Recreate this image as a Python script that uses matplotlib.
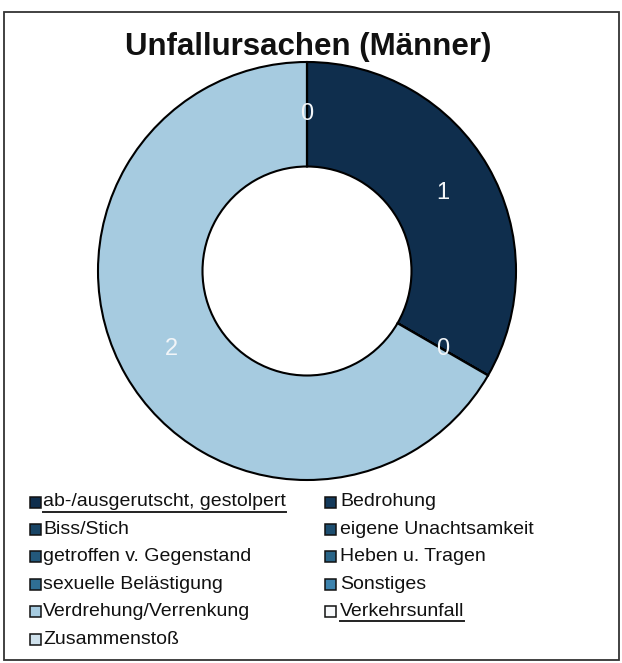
import numpy as np
import matplotlib
matplotlib.use("Agg")
import matplotlib.pyplot as plt
from matplotlib.patches import Rectangle
from matplotlib.lines import Line2D

plt.rcParams['font.family'] = ['Liberation Sans', 'DejaVu Sans']

title = "Unfallursachen (Männer)"
categories = [
    "ab-/ausgerutscht, gestolpert", "Bedrohung", "Biss/Stich",
    "eigene Unachtsamkeit", "getroffen v. Gegenstand", "Heben u. Tragen",
    "sexuelle Belästigung", "Sonstiges", "Verdrehung/Verrenkung",
    "Verkehrsunfall", "Zusammenstoß",
]
values = [1, np.nan, np.nan, np.nan, np.nan, np.nan, np.nan, 0, 2, 0, np.nan]
colors = ["#0f2e4d", "#13395a", "#184465", "#1d4e70", "#23597c", "#296487",
          "#2f6f94", "#3d83ae", "#a6cbe0", "#f7f9fb", "#cfe1ec"]
underlined = ["ab-/ausgerutscht, gestolpert", "Verkehrsunfall"]

W, H = 622, 663
fig = plt.figure(figsize=(W / 100, H / 100), dpi=100)

def fx(px):
    return px / W

def fy(py):
    return 1 - py / H

# outer frame
fig.patches.append(Rectangle((fx(4), fy(660)), fx(615), 648 / H,
                             transform=fig.transFigure, fill=False,
                             edgecolor="#333333", linewidth=1.3))

fig.text(fx(308), fy(55), title, ha="center", va="baseline",
         fontsize=22.5, fontweight="bold", color="#111111")

cx, cy, R = 307, 271, 209
ax = fig.add_axes([fx(cx - R), fy(cy + R), 2 * R / W, 2 * R / H])
vals = np.nan_to_num(np.array(values, dtype=float))
labels = ["" if np.isnan(v) else str(int(v)) for v in values]
wedges, texts = ax.pie(vals, colors=colors, startangle=90, counterclock=False,
                       radius=1, labels=labels, labeldistance=0.75,
                       wedgeprops=dict(width=0.5, edgecolor="black", linewidth=1.5))
for t in texts:
    t.set_ha("center")
    t.set_va("center")
    t.set_color("#f2f5f8")
    t.set_fontsize(17)
ax.set_xlim(-1.0, 1.0)
ax.set_ylim(-1.0, 1.0)
ax.set_aspect("equal")
ax.axis("off")

# legend (row-major, two columns)
row0, dy = 502, 27.4
col_sw = [30, 325]
col_tx = [43, 340]
sw = 11
texts_leg = {}
for i, (cat, col) in enumerate(zip(categories, colors)):
    r, c = divmod(i, 2)
    yc = row0 + r * dy
    fig.patches.append(Rectangle((fx(col_sw[c]), fy(yc + sw / 2)), sw / W, sw / H,
                                 transform=fig.transFigure, facecolor=col,
                                 edgecolor="#111111", linewidth=1.1))
    texts_leg[cat] = fig.text(fx(col_tx[c]), fy(yc), cat, ha="left", va="center",
                              fontsize=14, color="#111111")

fig.canvas.draw()
renderer = fig.canvas.get_renderer()
for cat in underlined:
    bb = texts_leg[cat].get_window_extent(renderer)
    x0, x1 = bb.x0 / W, bb.x1 / W
    yline = (bb.y0 - 1) / H
    fig.lines.append(Line2D([x0, x1], [yline, yline], transform=fig.transFigure,
                            color="#222222", linewidth=1.4))

fig.savefig("out.png", dpi=100, facecolor="white")
